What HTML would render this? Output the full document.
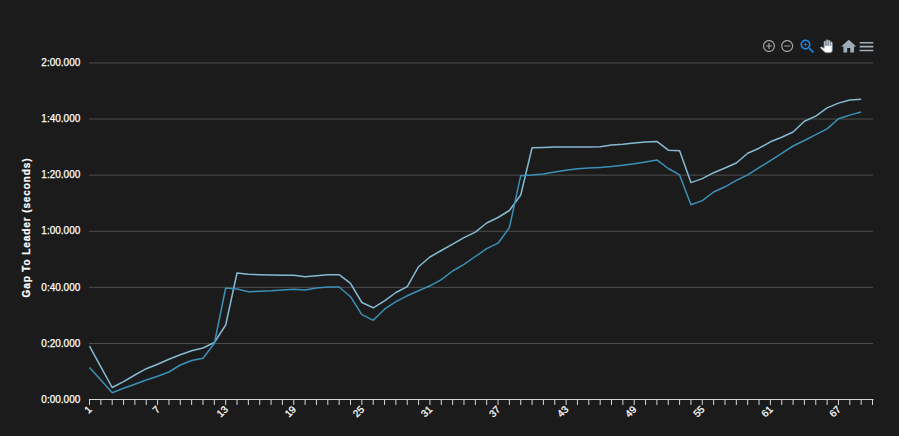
<!DOCTYPE html>
<html><head><meta charset="utf-8"><style>
html,body{margin:0;padding:0;background:#1b1b1b;}
body{width:899px;height:436px;overflow:hidden;position:relative;font-family:"Liberation Sans",sans-serif;}
svg{position:absolute;left:0;top:0;}
</style></head><body>
<svg width="899" height="436" viewBox="0 0 899 436">
<rect x="0" y="0" width="899" height="436" fill="#1b1b1b"/>
<g stroke="#4f4f4f" stroke-width="1"><line x1="89" y1="62.94" x2="873" y2="62.94" /><line x1="89" y1="119.04" x2="873" y2="119.04" /><line x1="89" y1="175.14" x2="873" y2="175.14" /><line x1="89" y1="231.24" x2="873" y2="231.24" /><line x1="89" y1="287.34" x2="873" y2="287.34" /><line x1="89" y1="343.44" x2="873" y2="343.44" /></g>
<g fill="#ffffff" stroke="#ffffff" stroke-width="0.25" font-family="Liberation Sans, sans-serif" font-size="10" text-anchor="end"><text x="80.3" y="66.14">2:00.000</text><text x="80.3" y="122.24">1:40.000</text><text x="80.3" y="178.34">1:20.000</text><text x="80.3" y="234.44">1:00.000</text><text x="80.3" y="290.54">0:40.000</text><text x="80.3" y="346.64">0:20.000</text><text x="80.3" y="402.74">0:00.000</text></g>
<text x="0" y="0" transform="translate(30.3 227.5) rotate(-90)" fill="#ffffff" font-family="Liberation Sans, sans-serif" font-size="10" font-weight="bold" letter-spacing="0.9" stroke="#ffffff" stroke-width="0.2" text-anchor="middle">Gap To Leader (seconds)</text>
<line x1="89" y1="399.5" x2="873.5" y2="399.5" stroke="#d6d6d6" stroke-width="1"/>
<g stroke="#d6d6d6" stroke-width="1"><line x1="89.50" y1="399" x2="89.50" y2="405" /><line x1="100.85" y1="399" x2="100.85" y2="405" /><line x1="112.20" y1="399" x2="112.20" y2="405" /><line x1="123.54" y1="399" x2="123.54" y2="405" /><line x1="134.89" y1="399" x2="134.89" y2="405" /><line x1="146.24" y1="399" x2="146.24" y2="405" /><line x1="157.59" y1="399" x2="157.59" y2="405" /><line x1="168.94" y1="399" x2="168.94" y2="405" /><line x1="180.28" y1="399" x2="180.28" y2="405" /><line x1="191.63" y1="399" x2="191.63" y2="405" /><line x1="202.98" y1="399" x2="202.98" y2="405" /><line x1="214.33" y1="399" x2="214.33" y2="405" /><line x1="225.68" y1="399" x2="225.68" y2="405" /><line x1="237.02" y1="399" x2="237.02" y2="405" /><line x1="248.37" y1="399" x2="248.37" y2="405" /><line x1="259.72" y1="399" x2="259.72" y2="405" /><line x1="271.07" y1="399" x2="271.07" y2="405" /><line x1="282.42" y1="399" x2="282.42" y2="405" /><line x1="293.76" y1="399" x2="293.76" y2="405" /><line x1="305.11" y1="399" x2="305.11" y2="405" /><line x1="316.46" y1="399" x2="316.46" y2="405" /><line x1="327.81" y1="399" x2="327.81" y2="405" /><line x1="339.16" y1="399" x2="339.16" y2="405" /><line x1="350.50" y1="399" x2="350.50" y2="405" /><line x1="361.85" y1="399" x2="361.85" y2="405" /><line x1="373.20" y1="399" x2="373.20" y2="405" /><line x1="384.55" y1="399" x2="384.55" y2="405" /><line x1="395.90" y1="399" x2="395.90" y2="405" /><line x1="407.24" y1="399" x2="407.24" y2="405" /><line x1="418.59" y1="399" x2="418.59" y2="405" /><line x1="429.94" y1="399" x2="429.94" y2="405" /><line x1="441.29" y1="399" x2="441.29" y2="405" /><line x1="452.64" y1="399" x2="452.64" y2="405" /><line x1="463.98" y1="399" x2="463.98" y2="405" /><line x1="475.33" y1="399" x2="475.33" y2="405" /><line x1="486.68" y1="399" x2="486.68" y2="405" /><line x1="498.03" y1="399" x2="498.03" y2="405" /><line x1="509.38" y1="399" x2="509.38" y2="405" /><line x1="520.72" y1="399" x2="520.72" y2="405" /><line x1="532.07" y1="399" x2="532.07" y2="405" /><line x1="543.42" y1="399" x2="543.42" y2="405" /><line x1="554.77" y1="399" x2="554.77" y2="405" /><line x1="566.12" y1="399" x2="566.12" y2="405" /><line x1="577.46" y1="399" x2="577.46" y2="405" /><line x1="588.81" y1="399" x2="588.81" y2="405" /><line x1="600.16" y1="399" x2="600.16" y2="405" /><line x1="611.51" y1="399" x2="611.51" y2="405" /><line x1="622.86" y1="399" x2="622.86" y2="405" /><line x1="634.20" y1="399" x2="634.20" y2="405" /><line x1="645.55" y1="399" x2="645.55" y2="405" /><line x1="656.90" y1="399" x2="656.90" y2="405" /><line x1="668.25" y1="399" x2="668.25" y2="405" /><line x1="679.60" y1="399" x2="679.60" y2="405" /><line x1="690.94" y1="399" x2="690.94" y2="405" /><line x1="702.29" y1="399" x2="702.29" y2="405" /><line x1="713.64" y1="399" x2="713.64" y2="405" /><line x1="724.99" y1="399" x2="724.99" y2="405" /><line x1="736.34" y1="399" x2="736.34" y2="405" /><line x1="747.68" y1="399" x2="747.68" y2="405" /><line x1="759.03" y1="399" x2="759.03" y2="405" /><line x1="770.38" y1="399" x2="770.38" y2="405" /><line x1="781.73" y1="399" x2="781.73" y2="405" /><line x1="793.08" y1="399" x2="793.08" y2="405" /><line x1="804.42" y1="399" x2="804.42" y2="405" /><line x1="815.77" y1="399" x2="815.77" y2="405" /><line x1="827.12" y1="399" x2="827.12" y2="405" /><line x1="838.47" y1="399" x2="838.47" y2="405" /><line x1="849.82" y1="399" x2="849.82" y2="405" /><line x1="861.16" y1="399" x2="861.16" y2="405" /><line x1="872.51" y1="399" x2="872.51" y2="405" /></g>
<g fill="#ffffff" stroke="#ffffff" stroke-width="0.25" font-family="Liberation Sans, sans-serif" font-size="10" text-anchor="end"><text x="92.50" y="410" transform="rotate(-45 92.50 410)">1</text><text x="160.59" y="410" transform="rotate(-45 160.59 410)">7</text><text x="228.68" y="410" transform="rotate(-45 228.68 410)">13</text><text x="296.76" y="410" transform="rotate(-45 296.76 410)">19</text><text x="364.85" y="410" transform="rotate(-45 364.85 410)">25</text><text x="432.94" y="410" transform="rotate(-45 432.94 410)">31</text><text x="501.03" y="410" transform="rotate(-45 501.03 410)">37</text><text x="569.12" y="410" transform="rotate(-45 569.12 410)">43</text><text x="637.20" y="410" transform="rotate(-45 637.20 410)">49</text><text x="705.29" y="410" transform="rotate(-45 705.29 410)">55</text><text x="773.38" y="410" transform="rotate(-45 773.38 410)">61</text><text x="841.47" y="410" transform="rotate(-45 841.47 410)">67</text></g>
<path d="M89.50 346.20 L100.85 366.80 L112.20 387.50 L123.54 381.70 L134.89 375.00 L146.24 368.70 L157.59 364.20 L168.94 359.20 L180.28 354.70 L191.63 350.80 L202.98 348.00 L214.33 342.50 L225.68 325.00 L237.02 273.00 L248.37 274.20 L259.72 274.70 L271.07 275.00 L282.42 275.30 L293.76 275.30 L305.11 276.70 L316.46 275.80 L327.81 274.70 L339.16 274.70 L350.50 283.30 L361.85 302.50 L373.20 307.80 L384.55 300.80 L395.90 292.50 L407.24 286.70 L418.59 266.70 L429.94 257.00 L441.29 250.50 L452.64 244.10 L463.98 237.70 L475.33 232.20 L486.68 223.00 L498.03 217.50 L509.38 210.50 L520.72 195.00 L532.07 147.80 L543.42 147.50 L554.77 147.10 L566.12 146.90 L577.46 146.90 L588.81 147.00 L600.16 146.80 L611.51 145.10 L622.86 144.20 L634.20 143.00 L645.55 142.00 L656.90 141.40 L668.25 150.20 L679.60 150.70 L690.94 182.60 L702.29 178.60 L713.64 172.70 L724.99 168.00 L736.34 163.00 L747.68 153.30 L759.03 148.20 L770.38 141.80 L781.73 137.20 L793.08 132.00 L804.42 121.30 L815.77 116.10 L827.12 107.90 L838.47 103.10 L849.82 100.00 L861.16 99.20" fill="none" stroke="#86bad2" stroke-width="1.5" stroke-linejoin="round"/>
<path d="M89.50 367.50 L100.85 380.00 L112.20 392.70 L123.54 388.30 L134.89 384.20 L146.24 380.00 L157.59 376.30 L168.94 372.00 L180.28 365.00 L191.63 360.50 L202.98 358.30 L214.33 343.50 L225.68 288.00 L237.02 289.00 L248.37 291.80 L259.72 291.30 L271.07 290.80 L282.42 290.00 L293.76 289.20 L305.11 290.00 L316.46 288.00 L327.81 287.00 L339.16 287.00 L350.50 296.70 L361.85 314.70 L373.20 320.30 L384.55 309.20 L395.90 301.70 L407.24 295.80 L418.59 290.80 L429.94 285.80 L441.29 279.70 L452.64 271.00 L463.98 264.40 L475.33 256.50 L486.68 248.70 L498.03 243.20 L509.38 227.60 L520.72 175.70 L532.07 175.00 L543.42 173.90 L554.77 172.00 L566.12 170.20 L577.46 168.80 L588.81 168.00 L600.16 167.40 L611.51 166.60 L622.86 165.30 L634.20 163.80 L645.55 161.90 L656.90 159.90 L668.25 168.50 L679.60 174.90 L690.94 204.80 L702.29 200.60 L713.64 192.00 L724.99 186.80 L736.34 180.40 L747.68 174.90 L759.03 167.60 L770.38 160.60 L781.73 153.30 L793.08 146.00 L804.42 140.50 L815.77 134.70 L827.12 128.90 L838.47 118.80 L849.82 115.10 L861.16 112.00" fill="none" stroke="#3b90b8" stroke-width="1.5" stroke-linejoin="round"/>

<g transform="translate(761.8 38.8) scale(0.6)" fill="#a0a3a6"><path d="M13 7h-2v4H7v2h4v4h2v-4h4v-2h-4V7zm-1-5C6.48 2 2 6.48 2 12s4.48 10 10 10 10-4.48 10-10S17.52 2 12 2zm0 18c-4.41 0-8-3.59-8-8s3.59-8 8-8 8 3.59 8 8-3.59 8-8 8z"/></g>
<g transform="translate(780 38.8) scale(0.6)" fill="#a0a3a6"><path d="M7 11v2h10v-2H7zm5-9C6.48 2 2 6.48 2 12s4.48 10 10 10 10-4.48 10-10S17.52 2 12 2zm0 18c-4.41 0-8-3.59-8-8s3.59-8 8-8 8 3.59 8 8-3.59 8-8 8z"/></g>
<g transform="translate(798.2 37.2) scale(0.77)" fill="#1e8ae6"><path d="M15.5 14h-.79l-.28-.27C15.41 12.59 16 11.11 16 9.5 16 5.91 13.09 3 9.5 3S3 5.91 3 9.5 5.910 16 9.5 16c1.61 0 3.09-.59 4.23-1.57l.27.28v.79l5 4.99L20.49 19l-4.99-5zm-6 0C7.01 14 5 11.99 5 9.5S7.01 5 9.5 5 14 7.01 14 9.5 11.99 14 9.5 14z"/><path d="M12 10h-2v2H9v-2H7V9h2V7h1v2h2v1z"/></g>
<g transform="translate(819.8 39.7) scale(0.54)" fill="#ffffff" stroke="#7d8d9b" stroke-width="1.6"><path d="M23 5.5V20c0 2.2-1.8 4-4 4h-7.3c-1.08 0-2.1-.43-2.850-1.19L1 14.83s1.26-1.23 1.3-1.25c.22-.19.49-.29.79-.29.22 0 .42.06.6.16.04.01 4.31 2.46 4.31 2.46V4c0-.83.67-1.5 1.5-1.5S11 3.17 11 4v7h1V1.5c0-.83.67-1.5 1.5-1.5S15 .67 15 1.5V11h1V2.5c0-.83.67-1.5 1.5-1.5s1.5.67 1.5 1.5V11h1V5.5c0-.83.67-1.5 1.5-1.5s1.5.67 1.5 1.5z"/></g>
<g transform="translate(839.6 37.4) scale(0.76)" fill="#9fadba"><path d="M10 20v-6h4v6h5v-8h3L12 3 2 12h3v8z"/></g>
<g transform="translate(857.4 37.5) scale(0.76)" fill="#a4aeb8"><path d="M3 18h18v-2H3v2zm0-5h18v-2H3v2zm0-7v2h18V6H3z"/></g>
</svg>
</body></html>
